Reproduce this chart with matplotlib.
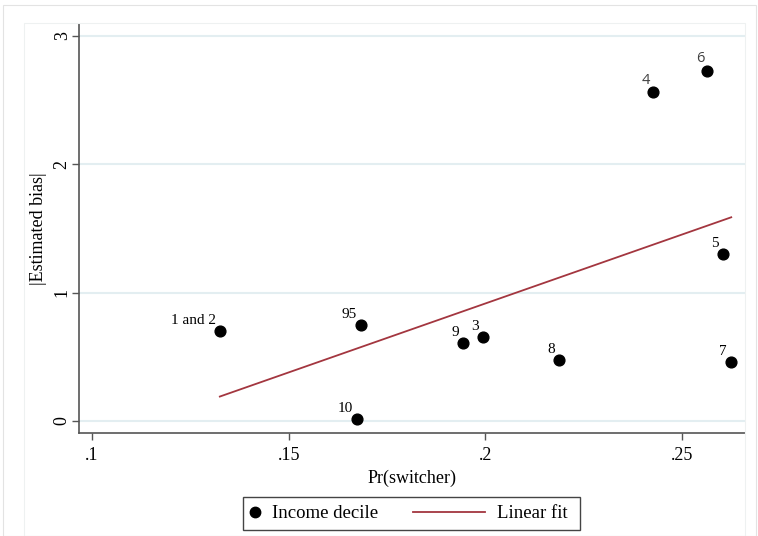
import numpy as np
import matplotlib
matplotlib.use("Agg")
import matplotlib.pyplot as plt
from matplotlib.patches import Rectangle
from matplotlib.lines import Line2D

# Data
labels = ["1 and 2", "95", "10", "9", "3", "8", "4", "6", "5", "7"]
pr_switcher = [0.1325, 0.1684, 0.1674, 0.1943, 0.1994, 0.2187, 0.2426, 0.2564, 0.2604, 0.2625]
est_bias = [0.70, 0.75, 0.016, 0.61, 0.655, 0.475, 2.565, 2.73, 1.30, 0.46]
xticks = [0.10, 0.15, 0.20, 0.25]
xtick_labels = [".1", ".15", ".2", ".25"]
yticks = [0, 1, 2, 3]
ytick_labels = ["0", "1", "2", "3"]
legend_labels = ["Income decile", "Linear fit"]

serif = ["Liberation Serif", "DejaVu Serif"]
plt.rcParams["font.family"] = serif

fig = plt.figure(figsize=(7.58, 5.36), dpi=100)
W, H = 758, 536
FIT_COLOR = "#a3363f"

# outer and inner borders
fig.patches.append(Rectangle((3 / W, 0), 753 / W, 531 / H, transform=fig.transFigure,
                             fill=False, edgecolor="#e3e3e3", linewidth=0.8))
fig.patches.append(Rectangle((24 / W, 0), 721 / W, 513 / H, transform=fig.transFigure,
                             fill=False, edgecolor="#eef1f1", linewidth=0.8))

ax = fig.add_axes([79 / W, 1 - 433 / H, (745 - 79) / W, (433 - 24) / H])

x = np.array(pr_switcher)
y = np.array(est_bias)

ax.set_xlim(0.0967, 0.2660)
ax.set_ylim(-0.0935, 3.0935)

for yt in yticks:
    ax.axhline(yt, color="#e3eef1", linewidth=1.5, zorder=0)

ax.scatter(x, y, s=60, color="black", zorder=3)

slope, intercept = np.polyfit(x, y, 1)
xf = np.array([x.min(), x.max()])
ax.plot(xf, slope * xf + intercept, color=FIT_COLOR, linewidth=1.3, zorder=2)

for lab, xi, yi in zip(labels, x, y):
    if lab in ("4", "6"):
        ax.annotate(lab, (xi, yi), xytext=(-2, 3), textcoords="offset points",
                    ha="right", va="bottom", fontsize=10.5, color="#404040",
                    family=["Open Sans", "DejaVu Sans"])
    else:
        ax.annotate(lab, (xi, yi), xytext=(-3, 3), textcoords="offset points",
                    ha="right", va="bottom", fontsize=11, color="black")

ax.set_xticks(xticks)
ax.set_xticklabels(xtick_labels, fontsize=13)
ax.set_yticks(yticks)
ax.set_yticklabels(ytick_labels, fontsize=13, rotation=90, va="center")
ax.tick_params(axis="both", direction="out", length=5, width=1, color="#555555")
ax.tick_params(axis="y", pad=1)
ax.tick_params(axis="x", pad=5)

for s in ["top", "right"]:
    ax.spines[s].set_visible(False)
for s in ["left", "bottom"]:
    ax.spines[s].set_color("#555555")
    ax.spines[s].set_linewidth(1.2)

ax.set_xlabel("Pr(switcher)", fontsize=13, labelpad=4)
ax.set_ylabel("|Estimated bias|", fontsize=13, labelpad=5)

# Legend: frame + two frameless legends
fig.patches.append(Rectangle((243 / W, 1 - 530 / H), (580 - 243) / W, 33 / H,
                             transform=fig.transFigure, fill=False,
                             edgecolor="#444444", linewidth=1.0))
h1 = Line2D([], [], marker="o", linestyle="none", color="black", markersize=7.5)
h2 = Line2D([], [], color=FIT_COLOR, linewidth=1.3)
leg1 = fig.legend([h1], [legend_labels[0]], loc="center left",
                  bbox_to_anchor=(246 / W, 1 - 513.5 / H), frameon=False,
                  fontsize=13.5, handlelength=1.0, handletextpad=0.4,
                  borderpad=0, borderaxespad=0)
leg2 = fig.legend([h2], [legend_labels[1]], loc="center left",
                  bbox_to_anchor=(413 / W, 1 - 513.5 / H), frameon=False,
                  fontsize=13.5, handlelength=3.85, handletextpad=0.65,
                  borderpad=0, borderaxespad=0)

fig.savefig("out.png", dpi=100)
